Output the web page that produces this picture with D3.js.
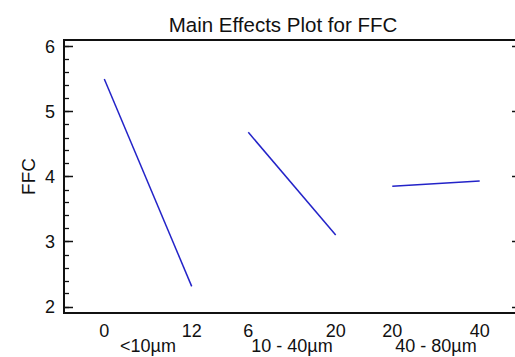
<!DOCTYPE html>
<html><head><meta charset="utf-8">
<script src="https://cdn.jsdelivr.net/npm/d3@7"></script>
<style>
html,body{margin:0;padding:0;background:#fff;overflow:hidden}
text{font-family:"Liberation Sans",Arial,sans-serif;fill:#111}
</style></head>
<body>
<svg id="chart" width="515" height="357"></svg>
<script>
const title = "Main Effects Plot for FFC";
const yLabel = "FFC";
const categories = ["<10µm", "10 - 40µm", "40 - 80µm"];
const lowLevels = [0, 6, 20];
const highLevels = [12, 20, 40];
const lowMeans = [5.50, 4.68, 3.85];
const highMeans = [2.31, 3.10, 3.93];
const yTicks = [2, 3, 4, 5, 6];
const yMinorTicks = d3.range(2, 6.01, 0.2);

(function () {
const svg = d3.select("#chart");
const pL = 64, pR = 516, pT = 40, pB = 313;
const y = d3.scaleLinear().domain([1.9, 6.1]).range([pB, pT]);
const xc = d3.scalePoint().domain(categories).range([148, 436]);
const half = 43.7;

// frame
svg.append("line").attr("x1", pL).attr("x2", pR).attr("y1", pT).attr("y2", pT)
  .attr("stroke", "#111").attr("stroke-width", 2);
svg.append("line").attr("x1", pL).attr("x2", pR).attr("y1", pB).attr("y2", pB)
  .attr("stroke", "#111").attr("stroke-width", 2);
svg.append("line").attr("x1", pL).attr("x2", pL).attr("y1", pT - 1).attr("y2", pB + 1)
  .attr("stroke", "#111").attr("stroke-width", 2);

// left minor ticks
svg.append("g").selectAll("line").data(yMinorTicks).join("line")
  .attr("x1", pL).attr("x2", pL + 5)
  .attr("y1", d => Math.round(y(d)) + 0.5).attr("y2", d => Math.round(y(d)) + 0.5)
  .attr("stroke", "#111").attr("stroke-width", 1.3);
// left major ticks
svg.append("g").selectAll("line").data(yTicks).join("line")
  .attr("x1", pL).attr("x2", pL + 9)
  .attr("y1", d => Math.round(y(d)) + 0.5).attr("y2", d => Math.round(y(d)) + 0.5)
  .attr("stroke", "#111").attr("stroke-width", 1.5);
// right major ticks
svg.append("g").selectAll("line").data(yTicks).join("line")
  .attr("x1", 512).attr("x2", pR)
  .attr("y1", d => Math.round(y(d)) + 0.5).attr("y2", d => Math.round(y(d)) + 0.5)
  .attr("stroke", "#111").attr("stroke-width", 1.5);
// y tick labels
svg.append("g").selectAll("text").data(yTicks).join("text")
  .attr("x", 55).attr("y", d => y(d)).attr("dy", "0.36em")
  .attr("text-anchor", "end").attr("font-size", 18).text(d => d);

// y label
svg.append("text").attr("transform", `translate(35,${(pT + pB) / 2}) rotate(-90)`)
  .attr("text-anchor", "middle").attr("font-size", 19).text(yLabel);

// title
svg.append("text").attr("x", 283).attr("y", 32).attr("text-anchor", "middle")
  .attr("font-size", 20.5).text(title);

// panels
categories.forEach((c, i) => {
  const x = d3.scaleLinear().domain([lowLevels[i], highLevels[i]])
    .range([xc(c) - half, xc(c) + half]);
  const pts = [[lowLevels[i], lowMeans[i]], [highLevels[i], highMeans[i]]];
  svg.append("path").datum(pts)
    .attr("d", d3.line().x(d => x(d[0])).y(d => y(d[1])))
    .attr("fill", "none").attr("stroke", "#2323c8").attr("stroke-width", 1.5);
  const g = svg.append("g");
  g.selectAll("text").data(x.domain()).join("text")
    .attr("x", d => x(d)).attr("y", 337).attr("text-anchor", "middle")
    .attr("font-size", 18).text(d => d);
  svg.append("text").attr("x", xc(c)).attr("y", 352).attr("text-anchor", "middle")
    .attr("font-size", 18).text(c);
});
})();
</script>
</body></html>
